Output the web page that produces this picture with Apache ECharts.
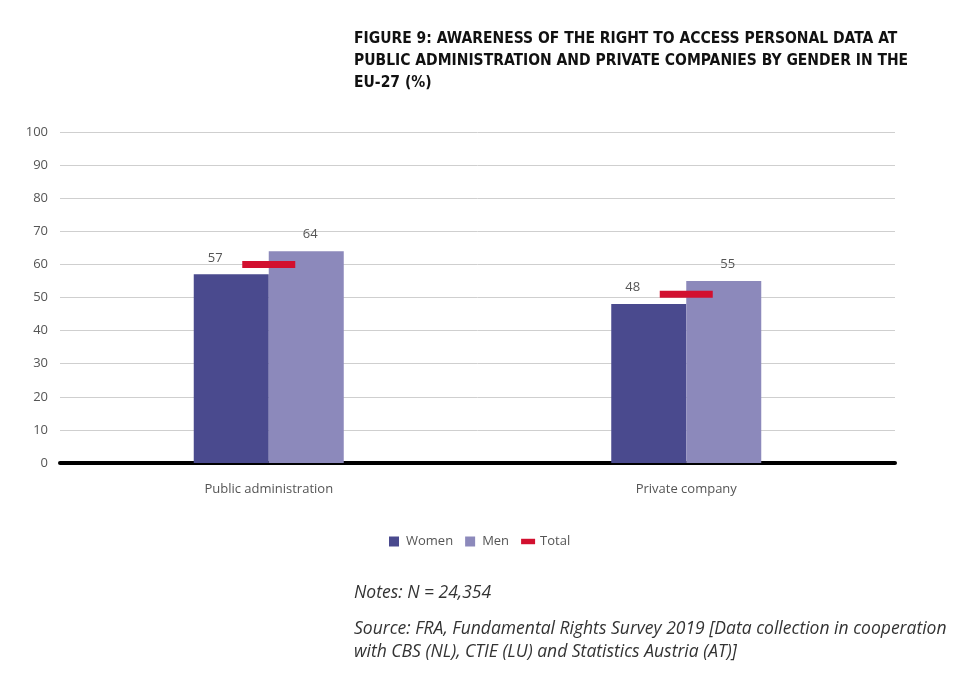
<!DOCTYPE html>
<html lang="en">
<head>
    <meta charset="UTF-8">
    <title>Figure 9</title>
    <script src="https://cdn.jsdelivr.net/npm/echarts@6/dist/echarts.min.js"></script>
    <style>
        html, body { margin: 0; padding: 0; background: #fff; }
    </style>
</head>
<body>
    <div id="main" style="width: 974px; height: 689px;"></div>

    <script>
        // chart data
        var categories = ['Public administration', 'Private company'];
        var women = [57, 48];
        var men = [64, 55];
        var total = [60, 51];

        var chart = echarts.init(document.getElementById('main'));

        var labelColor = '#555';
        var font = '"Open Sans", "Noto Sans", sans-serif';

        var option = {
            backgroundColor: '#fff',
            animation: false,
            title: {
                text: 'FIGURE 9: AWARENESS OF THE RIGHT TO ACCESS PERSONAL DATA AT\nPUBLIC ADMINISTRATION AND PRIVATE COMPANIES BY GENDER IN THE\nEU-27 (%)',
                left: 349,
                top: 23,
                textStyle: {
                    fontFamily: '"Liberation Sans Narrow", "DejaVu Sans Condensed", sans-serif',
                    fontWeight: 'bold',
                    fontSize: 15.5,
                    lineHeight: 22,
                    color: '#111'
                }
            },
            legend: {
                left: 384,
                top: 530,
                itemWidth: 14,
                itemHeight: 10,
                itemGap: 12,
                textStyle: { color: labelColor, fontSize: 13, fontFamily: font },
                data: [
                    { name: 'Women', icon: 'path://M0,0H10V10H0Z' },
                    { name: 'Men', icon: 'path://M0,0H10V10H0Z' },
                    { name: 'Total', icon: 'path://M0,0H18V7H0Z' }
                ]
            },
            grid: { left: 60, right: 79, top: 132, bottom: 226 },
            xAxis: {
                type: 'category',
                data: categories,
                axisTick: { show: false },
                axisLine: { lineStyle: { color: '#000', width: 4 } },
                axisLabel: { color: labelColor, fontSize: 13, margin: 20, fontFamily: font }
            },
            yAxis: {
                type: 'value',
                min: 0,
                max: 100,
                interval: 10,
                axisLine: { show: false },
                axisTick: { show: false },
                axisLabel: { color: labelColor, fontSize: 13, margin: 12, fontFamily: font },
                splitLine: { lineStyle: { color: '#cfcfcf', width: 1 } }
            },
            series: [
                {
                    name: 'Women',
                    type: 'bar',
                    data: women,
                    barWidth: 75,
                    barGap: '0%',
                    itemStyle: { color: '#4a4a8e' },
                    label: {
                        show: true, position: 'top', distance: 10, offset: [-16, 0],
                        color: labelColor, fontSize: 13, fontFamily: font
                    }
                },
                {
                    name: 'Men',
                    type: 'bar',
                    data: men,
                    barWidth: 75,
                    itemStyle: { color: '#8c89bb' },
                    label: {
                        show: true, position: 'top', distance: 10, offset: [4, 0],
                        color: labelColor, fontSize: 13, fontFamily: font
                    }
                },
                {
                    name: 'Total',
                    type: 'scatter',
                    data: total,
                    symbol: 'rect',
                    symbolSize: [53, 7],
                    itemStyle: { color: '#d2102f', opacity: 1 },
                    z: 5
                }
            ],
            graphic: [
                {
                    type: 'text', left: 354, top: 584,
                    style: { text: 'Notes: N = 24,354', fill: '#333', font: 'italic 17.5px ' + font }
                },
                {
                    type: 'text', left: 354, top: 618,
                    style: {
                        text: 'Source: FRA, Fundamental Rights Survey 2019 [Data collection in cooperation\nwith CBS (NL), CTIE (LU) and Statistics Austria (AT)]',
                        fill: '#333', font: 'italic 17.5px ' + font, lineHeight: 23
                    }
                }
            ]
        };

        chart.setOption(option);
    </script>
</body>
</html>
